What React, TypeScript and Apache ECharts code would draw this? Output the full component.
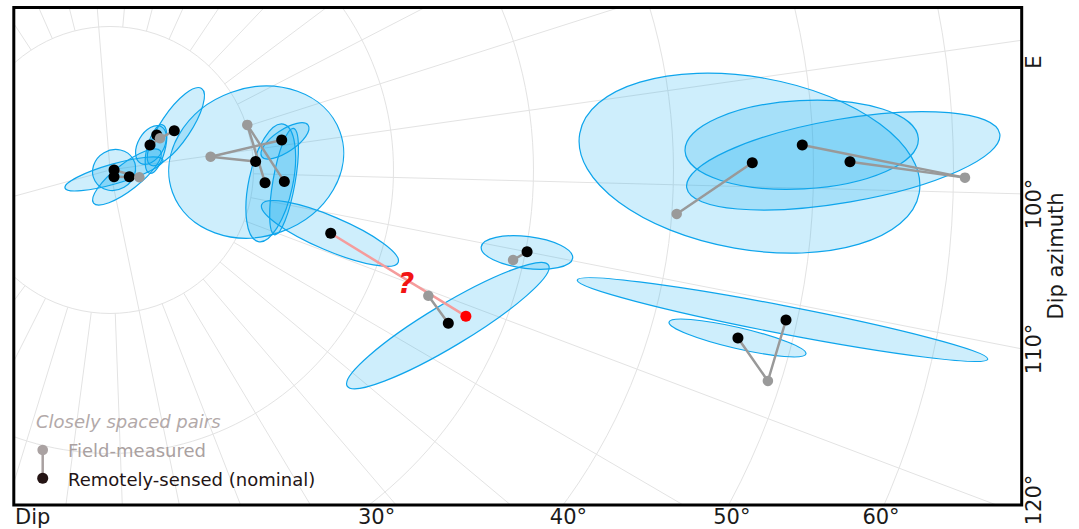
import React, { useEffect, useRef } from "react";
import * as echarts from "echarts";

// ---------- data (dip °, dip azimuth °) ----------
const fieldMeasured: number[][] = [
  [1.91, 113.0],
  [3.98, 64.7],
  [10.07, 79.5],
  [7.0, 90.6],
  [24.2, 120.9],
  [29.25, 111.55],
  [40.35, 103.06],
  [60.82, 98.97],
  [49.1, 116.96],
];

const remotelySensed: number[][] = [
  [0.04, 98.4],
  [0.31, 160.1],
  [1.21, 118.4],
  [3.12, 65.1],
  [3.92, 60.1],
  [5.13, 65.7],
  [12.2, 88.1],
  [10.17, 95.0],
  [10.86, 103.3],
  [12.23, 102.4],
  [16.15, 115.1],
  [26.28, 123.83],
  [30.11, 110.0],
  [45.63, 97.76],
  [49.23, 96.28],
  [52.61, 97.77],
  [46.18, 114.04],
  [49.21, 111.47],
];

// [field index, remote index]
const pairs: number[][] = [
  [0, 0], [0, 1], [0, 2],
  [1, 3], [1, 4], [1, 5],
  [2, 8], [2, 9],
  [3, 6], [3, 7],
  [4, 11],
  [5, 12],
  [6, 13],
  [7, 14], [7, 15],
  [8, 16], [8, 17],
];

// uncertain pairing (drawn in red)
const uncertainRemote: number[] = [16.15, 115.1];
const uncertainField: number[] = [27.23, 121.7];

// confidence ellipses: [dip, azimuth, semi-major (° dip), semi-minor (° dip), orientation (° ccw)]
const ellipses: number[][] = [
  [0.15, 145.3, 3.64, 0.71, 16],
  [0.04, 98.4, 1.57, 1.43, 30],
  [1.06, 121.8, 3.03, 0.93, 38],
  [3.18, 65.7, 1.5, 0.93, 60],
  [3.36, 72.9, 1.79, 0.64, 75],
  [5.38, 63.7, 3.29, 1.07, 56],
  [10.21, 95.2, 6.36, 5.29, 20],
  [12.42, 88.6, 2.0, 0.79, 34],
  [11.27, 103.2, 4.29, 1.57, 78],
  [12.21, 102.4, 3.86, 0.79, 80],
  [16.1, 115.2, 5.29, 1.21, -23],
  [26.32, 124.2, 8.39, 1.5, 31],
  [30.11, 110.1, 3.29, 1.14, -7],
  [45.43, 97.8, 12.31, 6.16, -9.9],
  [49.19, 96.26, 8.34, 3.16, 3.1],
  [52.13, 97.69, 11.35, 2.98, 9.8],
  [48.96, 111.5, 14.93, 1.0, -10.9],
  [46.15, 114.05, 5.02, 0.75, -13.1],
];

// grid rays through the pole (drawn inside the 10° ring)
const poleRays: number[] = [0, 90, 180, 270];

// tick labels
const dipTickLabels: string[] = ["30°", "40°", "50°", "60°"];
const azimuthTickLabels: string[] = ["E", "100°", "110°", "120°"];

// ---------- layout ----------
const W = 1079;
const H = 529;
const CX = 110;
const CY = 170;
const PX_PER_DEG = 14;
const R0 = 3.5;
const DIP_MAX = 72;
const AZ_MIN = -80;
const AZ_SPAN = 375;
const START_ANGLE = 94.5 + (-AZ_MIN * 360) / AZ_SPAN;
const BOX = { l: 13.8, t: 7.5, r: 1021.7, b: 505 };
const dipTickX = [376.6, 568.4, 731.8, 881];
const azTickY = [62, 204, 349, 500];

const FONT = "'DejaVu Sans', sans-serif";
const GRID = "#e3e3e3";
const ELL_FILL = "rgba(10,170,242,0.2)";
const ELL_STROKE = "#0ea5ec";

function App() {
  const ref = useRef<HTMLDivElement>(null);

  useEffect(() => {
    if (!ref.current) return;
    const chart = echarts.init(ref.current, undefined, { renderer: "svg" });

    const hiddenAxis = {
      axisLine: { show: false },
      axisTick: { show: false },
      axisLabel: { show: false },
    };

    const segmentRenderer = (color: string, width: number) => (params: any, api: any) => {
      const a = api.coord([api.value(0), api.value(1)]);
      const b = api.coord([api.value(2), api.value(3)]);
      return {
        type: "line",
        shape: { x1: a[0], y1: a[1], x2: b[0], y2: b[1] },
        style: { stroke: color, lineWidth: width, lineCap: "round" },
      };
    };

    const pairSegments = pairs.map(([f, r]) => [
      fieldMeasured[f][0], fieldMeasured[f][1],
      remotelySensed[r][0], remotelySensed[r][1],
    ]);

    const textStyle = (extra: any) => ({ fontFamily: FONT, fill: "#1a1a1a", ...extra });

    const graphics: any[] = [
      // masks outside the frame
      { type: "rect", z: 100, shape: { x: 0, y: 0, width: W, height: BOX.t }, style: { fill: "#fff" } },
      { type: "rect", z: 100, shape: { x: 0, y: BOX.b, width: W, height: H - BOX.b }, style: { fill: "#fff" } },
      { type: "rect", z: 100, shape: { x: 0, y: 0, width: BOX.l, height: H }, style: { fill: "#fff" } },
      { type: "rect", z: 100, shape: { x: BOX.r, y: 0, width: W - BOX.r, height: H }, style: { fill: "#fff" } },
      {
        type: "rect", z: 101,
        shape: { x: BOX.l, y: BOX.t, width: BOX.r - BOX.l, height: BOX.b - BOX.t },
        style: { fill: "none", stroke: "#000", lineWidth: 3 },
      },
      // axis titles
      {
        type: "text", z: 101, x: 15, y: 517,
        style: textStyle({ text: "Dip", fontSize: 21, textAlign: "left", textVerticalAlign: "middle" }),
      },
      {
        type: "text", z: 101, x: 1056, y: 256, rotation: Math.PI / 2,
        style: textStyle({ text: "Dip azimuth", fontSize: 21, textAlign: "center", textVerticalAlign: "middle" }),
      },
      ...dipTickLabels.map((t, i) => ({
        type: "text", z: 101, x: dipTickX[i], y: 517,
        style: textStyle({ text: t, fontSize: 21, textAlign: "center", textVerticalAlign: "middle" }),
      })),
      ...azimuthTickLabels.map((t, i) => ({
        type: "text", z: 101, x: 1034, y: azTickY[i], rotation: Math.PI / 2,
        style: textStyle({ text: t, fontSize: 21, textAlign: "center", textVerticalAlign: "middle" }),
      })),
      // question mark on the uncertain pairing
      {
        type: "text", z: 50, x: 406, y: 283,
        style: {
          text: "?", fontFamily: FONT, fontSize: 28, fontWeight: "bold", fontStyle: "italic",
          fill: "#f21414", textAlign: "center", textVerticalAlign: "middle",
        },
      },
      // legend
      {
        type: "text", z: 50, x: 36, y: 421,
        style: { text: "Closely spaced pairs", fontFamily: FONT, fontSize: 18, fontStyle: "italic", fill: "#b2a9a9", textVerticalAlign: "middle" },
      },
      { type: "line", z: 50, shape: { x1: 42.7, y1: 450, x2: 42.7, y2: 478 }, style: { stroke: "#a9a1a1", lineWidth: 2.5 } },
      { type: "circle", z: 51, shape: { cx: 42.7, cy: 450, r: 5.3 }, style: { fill: "#aaa2a2" } },
      { type: "circle", z: 51, shape: { cx: 42.7, cy: 478.3, r: 5.5 }, style: { fill: "#241414" } },
      {
        type: "text", z: 50, x: 68, y: 450,
        style: { text: "Field-measured", fontFamily: FONT, fontSize: 18, fill: "#aaa1a1", textVerticalAlign: "middle" },
      },
      {
        type: "text", z: 50, x: 68, y: 479,
        style: { text: "Remotely-sensed (nominal)", fontFamily: FONT, fontSize: 18, fill: "#231414", textVerticalAlign: "middle" },
      },
    ];

    const option: any = {
      animation: false,
      polar: [
        { center: [CX, CY], radius: [R0, R0 + PX_PER_DEG * DIP_MAX] },
        { center: [CX, CY], radius: [R0 + PX_PER_DEG * 10, R0 + PX_PER_DEG * DIP_MAX] },
      ],
      radiusAxis: [
        { polarIndex: 0, type: "value", min: 0, max: DIP_MAX, ...hiddenAxis, splitLine: { show: false } },
        {
          polarIndex: 1, type: "value", min: 10, max: DIP_MAX, interval: 10, ...hiddenAxis,
          splitLine: { show: true, lineStyle: { color: GRID, width: 1 } },
        },
      ],
      angleAxis: [
        {
          polarIndex: 0, type: "value", min: AZ_MIN, max: AZ_MIN + AZ_SPAN, startAngle: START_ANGLE,
          clockwise: true, ...hiddenAxis, splitLine: { show: false },
        },
        {
          polarIndex: 1, type: "value", min: AZ_MIN, max: AZ_MIN + AZ_SPAN, interval: 10, startAngle: START_ANGLE,
          clockwise: true, ...hiddenAxis, splitLine: { show: true, lineStyle: { color: GRID, width: 1 } },
        },
      ],
      series: [
        {
          type: "custom", coordinateSystem: "polar", polarIndex: 0, z: 1, silent: true,
          encode: { radius: 0, angle: 1 },
          data: poleRays.map((az) => [0, az, 10, az]),
          renderItem: segmentRenderer(GRID, 1),
        },
        {
          type: "custom", coordinateSystem: "polar", polarIndex: 0, z: 2, silent: true,
          encode: { radius: 0, angle: 1 },
          data: ellipses,
          renderItem: (params: any, api: any) => {
            const dip = api.value(0);
            const az = api.value(1);
            const c = api.coord([dip, az]);
            const p1 = api.coord([10, az]);
            const p2 = api.coord([20, az]);
            const s = Math.hypot(p2[0] - p1[0], p2[1] - p1[1]) / 10;
            return {
              type: "ellipse",
              x: c[0],
              y: c[1],
              rotation: (api.value(4) * Math.PI) / 180,
              shape: { cx: 0, cy: 0, rx: api.value(2) * s, ry: api.value(3) * s },
              style: { fill: ELL_FILL, stroke: ELL_STROKE, lineWidth: 1.2 },
            };
          },
        },
        {
          type: "custom", coordinateSystem: "polar", polarIndex: 0, z: 3, silent: true,
          encode: { radius: 0, angle: 1 },
          data: pairSegments,
          renderItem: segmentRenderer("#999999", 2.5),
        },
        {
          type: "custom", coordinateSystem: "polar", polarIndex: 0, z: 3, silent: true,
          encode: { radius: 0, angle: 1 },
          data: [[...uncertainRemote, ...uncertainField]],
          renderItem: segmentRenderer("#f59c9c", 2.5),
        },
        {
          type: "scatter", coordinateSystem: "polar", polarIndex: 0, z: 4, silent: true,
          symbol: "circle", symbolSize: 11, itemStyle: { color: "#000", opacity: 1 },
          data: remotelySensed,
        },
        {
          type: "scatter", coordinateSystem: "polar", polarIndex: 0, z: 5, silent: true,
          symbol: "circle", symbolSize: 10.5, itemStyle: { color: "#9a9a9a", opacity: 1 },
          data: fieldMeasured,
        },
        {
          type: "scatter", coordinateSystem: "polar", polarIndex: 0, z: 6, silent: true,
          symbol: "circle", symbolSize: 11, itemStyle: { color: "#ff0000", opacity: 1 },
          data: [uncertainField],
        },
      ],
      graphic: { elements: graphics },
    };

    chart.setOption(option);
    return () => chart.dispose();
  }, []);

  return (
    <div
      ref={ref}
      style={{ position: "absolute", left: 0, top: 0, width: W, height: H, background: "#fff" }}
    />
  );
}

export default App;
